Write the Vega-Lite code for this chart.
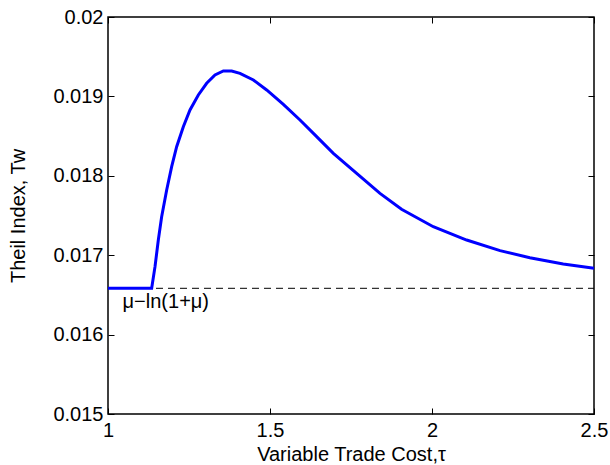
{
  "$schema": "https://vega.github.io/schema/vega-lite/v6.json",
  "autosize": "none",
  "width": 486,
  "height": 397,
  "padding": {"left": 108, "top": 17, "right": 16, "bottom": 51},
  "background": "white",
  "config": {
    "font": "Liberation Sans",
    "view": {"stroke": "black", "strokeWidth": 1.5},
    "axis": {
      "domain": false,
      "grid": false,
      "tickColor": "black",
      "tickSize": -6,
      "tickWidth": 1,
      "labelFont": "Liberation Sans",
      "labelFontSize": 20,
      "labelColor": "black",
      "titleFont": "Liberation Sans",
      "titleFontSize": 20,
      "titleFontWeight": "normal",
      "titleColor": "black",
      "labelOverlap": false,
      "labelFlush": false
    }
  },
  "datasets": {
    "curve": [
      {"tau": 1.0, "T": 0.016583},
      {"tau": 1.1348, "T": 0.016583},
      {"tau": 1.1451, "T": 0.016856},
      {"tau": 1.1553, "T": 0.017191},
      {"tau": 1.1656, "T": 0.017485},
      {"tau": 1.1811, "T": 0.017821},
      {"tau": 1.1965, "T": 0.018115},
      {"tau": 1.2119, "T": 0.018367},
      {"tau": 1.2325, "T": 0.018619},
      {"tau": 1.2531, "T": 0.018829},
      {"tau": 1.2788, "T": 0.019018},
      {"tau": 1.3045, "T": 0.019165},
      {"tau": 1.3302, "T": 0.01927},
      {"tau": 1.356, "T": 0.01932},
      {"tau": 1.3817, "T": 0.01932},
      {"tau": 1.4074, "T": 0.019291},
      {"tau": 1.4486, "T": 0.019207},
      {"tau": 1.4897, "T": 0.019081},
      {"tau": 1.5412, "T": 0.0189},
      {"tau": 1.5926, "T": 0.018703},
      {"tau": 1.644, "T": 0.018493},
      {"tau": 1.6955, "T": 0.018283},
      {"tau": 1.7675, "T": 0.018031},
      {"tau": 1.8395, "T": 0.017779},
      {"tau": 1.906, "T": 0.017578},
      {"tau": 2.004, "T": 0.017359},
      {"tau": 2.107, "T": 0.017191},
      {"tau": 2.21, "T": 0.017057},
      {"tau": 2.302, "T": 0.016969},
      {"tau": 2.405, "T": 0.016889},
      {"tau": 2.5, "T": 0.016835}
    ],
    "ref": [
      {"tau0": 1.0, "tau1": 2.5, "T": 0.016583, "label": "μ−ln(1+μ)", "labelTau": 1.045}
    ]
  },
  "resolve": {"axis": {"x": "independent", "y": "independent"}},
  "layer": [
    {
      "data": {"name": "ref"},
      "mark": {"type": "rule", "color": "black", "strokeWidth": 1, "strokeDash": [7, 5]},
      "encoding": {
        "x": {"field": "tau0", "type": "quantitative", "axis": null},
        "x2": {"field": "tau1"},
        "y": {"field": "T", "type": "quantitative", "axis": null}
      }
    },
    {
      "data": {"name": "curve"},
      "mark": {"type": "line", "color": "#0000ff", "strokeWidth": 3},
      "encoding": {
        "x": {
          "field": "tau", "type": "quantitative",
          "scale": {"domain": [1, 2.5], "nice": false, "zero": false},
          "axis": {"values": [1, 1.5, 2, 2.5], "format": "~f", "title": "Variable Trade Cost,τ", "labelPadding": 12, "titlePadding": 4}
        },
        "y": {
          "field": "T", "type": "quantitative",
          "scale": {"domain": [0.015, 0.02], "nice": false, "zero": false},
          "axis": {"values": [0.015, 0.016, 0.017, 0.018, 0.019, 0.02], "format": "~f", "title": "Theil Index, Tw", "labelPadding": 11, "titlePadding": 24}
        }
      }
    },
    {
      "data": {"name": "curve"},
      "mark": {"type": "line", "opacity": 0},
      "encoding": {
        "x": {
          "field": "tau", "type": "quantitative",
          "axis": {"orient": "top", "values": [1, 1.5, 2, 2.5], "labels": false, "title": null}
        },
        "y": {
          "field": "T", "type": "quantitative",
          "axis": {"orient": "right", "values": [0.015, 0.016, 0.017, 0.018, 0.019, 0.02], "labels": false, "title": null}
        }
      }
    },
    {
      "data": {"name": "ref"},
      "mark": {"type": "text", "align": "left", "baseline": "top", "dy": 4, "fontSize": 20, "font": "Liberation Sans", "color": "black"},
      "encoding": {
        "x": {"field": "labelTau", "type": "quantitative", "axis": null},
        "y": {"field": "T", "type": "quantitative", "axis": null},
        "text": {"field": "label"}
      }
    }
  ]
}
